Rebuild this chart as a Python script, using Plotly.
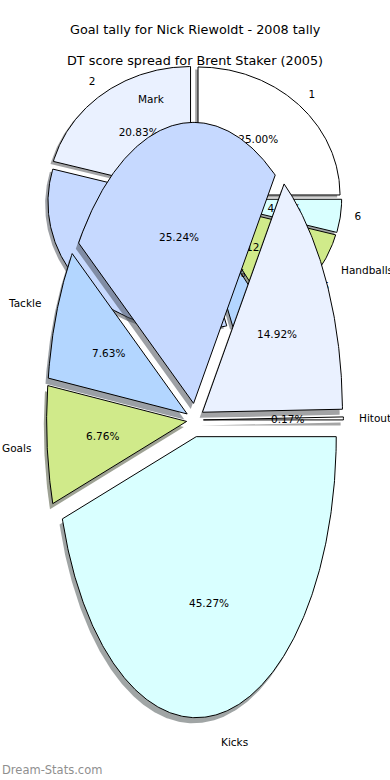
import numpy as np
import plotly.graph_objects as go

# ---------------- data ----------------
goal_labels = ["1", "2", "3", "4", "5", "6"]
goal_counts = [6, 5, 8, 1, 3, 1]

dt_labels = ["Hitout", "Handballs", "Mark", "Tackle", "Goals", "Kicks"]
dt_share = [0.17, 14.92, 25.24, 7.63, 6.76, 45.27]

slice_colors = ["#FFFFFF", "#EAF1FF", "#C6D9FF", "#B3D6FF", "#D0EA8A", "#D9FFFF"]

title_1 = "Goal tally for Nick Riewoldt - 2008 tally"
title_2 = "DT score spread for Brent Staker (2005)"
watermark = "Dream-Stats.com"

# ---------------- style / geometry ----------------
W, H = 390, 780
FONT = "DejaVu Sans"
TITLE_SIZE = 12.8
TEXT_SIZE = 10.5
EXPLODE_1 = 0.04
EXPLODE_2 = 0.06
SHADOW = 0.02
LABEL_DIST = 1.1
PCT_DIST = 0.6
# pixel position of each pie's centre and its pixel size of one radius unit
P1 = dict(cx=194.0, cy=198.6, rx=142.0, ry=128.0)
P2 = dict(cx=195.0, cy=420.0, rx=140.0, ry=281.0)


def axis_ranges(p):
    xr = [-p["cx"] / p["rx"], (W - p["cx"]) / p["rx"]]
    yr = [-(H - p["cy"]) / p["ry"], p["cy"] / p["ry"]]
    return xr, yr


def shade(hexcol):
    r, g, b = (int(hexcol[i:i + 2], 16) for i in (1, 3, 5))
    return f"rgba({r * 0.3:.0f},{g * 0.3:.0f},{b * 0.3:.0f},0.5)"


def wedges(values, explode):
    frac = np.asarray(values, float) / float(np.sum(values))
    out = []
    t = 0.0
    for f in frac:
        t1, t2 = t, t + 360.0 * f
        tm = np.deg2rad((t1 + t2) / 2)
        ox, oy = explode * np.cos(tm), explode * np.sin(tm)
        n = max(2, int(np.ceil(t2 - t1)) * 2 + 1)
        ang = np.deg2rad(np.linspace(t1, t2, n))
        xs = np.concatenate([[ox], ox + np.cos(ang), [ox]])
        ys = np.concatenate([[oy], oy + np.sin(ang), [oy]])
        out.append(dict(x=xs, y=ys, ox=ox, oy=oy, tm=tm, frac=f))
        t = t2
    return out


fig = go.Figure()


def add_pie(values, explode, xa, ya):
    ws = wedges(values, explode)
    # shadows under all wedges
    for i, w in enumerate(ws):
        col = shade(slice_colors[i % len(slice_colors)])
        fig.add_trace(go.Scatter(
            x=w["x"] - SHADOW, y=w["y"] - SHADOW, xaxis=xa, yaxis=ya,
            mode="lines", fill="toself", fillcolor=col,
            line=dict(color=col, width=0), hoverinfo="skip", showlegend=False))
    for i, w in enumerate(ws):
        fig.add_trace(go.Scatter(
            x=w["x"], y=w["y"], xaxis=xa, yaxis=ya,
            mode="lines", fill="toself", fillcolor=slice_colors[i % len(slice_colors)],
            line=dict(color="black", width=1), hoverinfo="skip", showlegend=False))
    return ws


# ---- pie 1 (bottom layer) ----
ws1 = add_pie(goal_counts, EXPLODE_1, "x", "y")
for lab, w in zip(goal_labels, ws1):
    xt = w["ox"] + LABEL_DIST * np.cos(w["tm"])
    yt = w["oy"] + LABEL_DIST * np.sin(w["tm"])
    fig.add_trace(go.Scatter(
        x=[xt], y=[yt], xaxis="x", yaxis="y", mode="text", text=[lab],
        textposition="middle right" if xt > 0 else "middle left",
        textfont=dict(family=FONT, size=TEXT_SIZE, color="black"),
        hoverinfo="skip", showlegend=False))
    xp = w["ox"] + PCT_DIST * np.cos(w["tm"])
    yp = w["oy"] + PCT_DIST * np.sin(w["tm"])
    fig.add_trace(go.Scatter(
        x=[xp], y=[yp], xaxis="x", yaxis="y", mode="text",
        text=[f"{w['frac'] * 100:.2f}%"], textposition="middle center",
        textfont=dict(family=FONT, size=TEXT_SIZE, color="black"),
        hoverinfo="skip", showlegend=False))

# ---- pie 2 (overlaid) ----
ws2 = add_pie(dt_share, EXPLODE_2, "x2", "y2")
annotations = []
for lab, w in zip(dt_labels, ws2):
    xt = w["ox"] + LABEL_DIST * np.cos(w["tm"])
    yt = w["oy"] + LABEL_DIST * np.sin(w["tm"])
    annotations.append(dict(
        x=xt, y=yt, xref="x2", yref="y2", text=lab, showarrow=False,
        xanchor="left" if xt > 0 else "right", yanchor="middle",
        font=dict(family=FONT, size=TEXT_SIZE, color="black")))
    xp = w["ox"] + PCT_DIST * np.cos(w["tm"])
    yp = w["oy"] + PCT_DIST * np.sin(w["tm"])
    annotations.append(dict(
        x=xp, y=yp, xref="x2", yref="y2", text=f"{w['frac'] * 100:.2f}%",
        showarrow=False, xanchor="center", yanchor="middle",
        font=dict(family=FONT, size=TEXT_SIZE, color="black")))

annotations += [
    dict(x=0.5, y=1 - 30 / H, xref="paper", yref="paper", text=title_1,
         showarrow=False, xanchor="center", yanchor="middle",
         font=dict(family=FONT, size=TITLE_SIZE, color="black")),
    dict(x=0.5, y=1 - 61 / H, xref="paper", yref="paper", text=title_2,
         showarrow=False, xanchor="center", yanchor="middle",
         font=dict(family=FONT, size=TITLE_SIZE, color="black")),
    dict(x=0, y=1 - 770 / H, xref="paper", yref="paper", text=watermark,
         showarrow=False, xanchor="left", yanchor="middle",
         font=dict(family=FONT, size=11.5, color="#8f8f8f")),
]

x1r, y1r = axis_ranges(P1)
x2r, y2r = axis_ranges(P2)
hidden = dict(visible=False, showgrid=False, zeroline=False, fixedrange=True)
fig.update_layout(
    width=W, height=H, margin=dict(l=0, r=0, t=0, b=0),
    paper_bgcolor="white", plot_bgcolor="white",
    xaxis=dict(range=x1r, domain=[0, 1], **hidden),
    yaxis=dict(range=y1r, domain=[0, 1], **hidden),
    xaxis2=dict(range=x2r, overlaying="x", **hidden),
    yaxis2=dict(range=y2r, overlaying="y", **hidden),
    annotations=annotations,
    showlegend=False,
)

fig.write_html(
    "out.html",
    config={"displayModeBar": False},
    post_script="document.body.style.margin='0';document.body.style.overflow='hidden';",
)
